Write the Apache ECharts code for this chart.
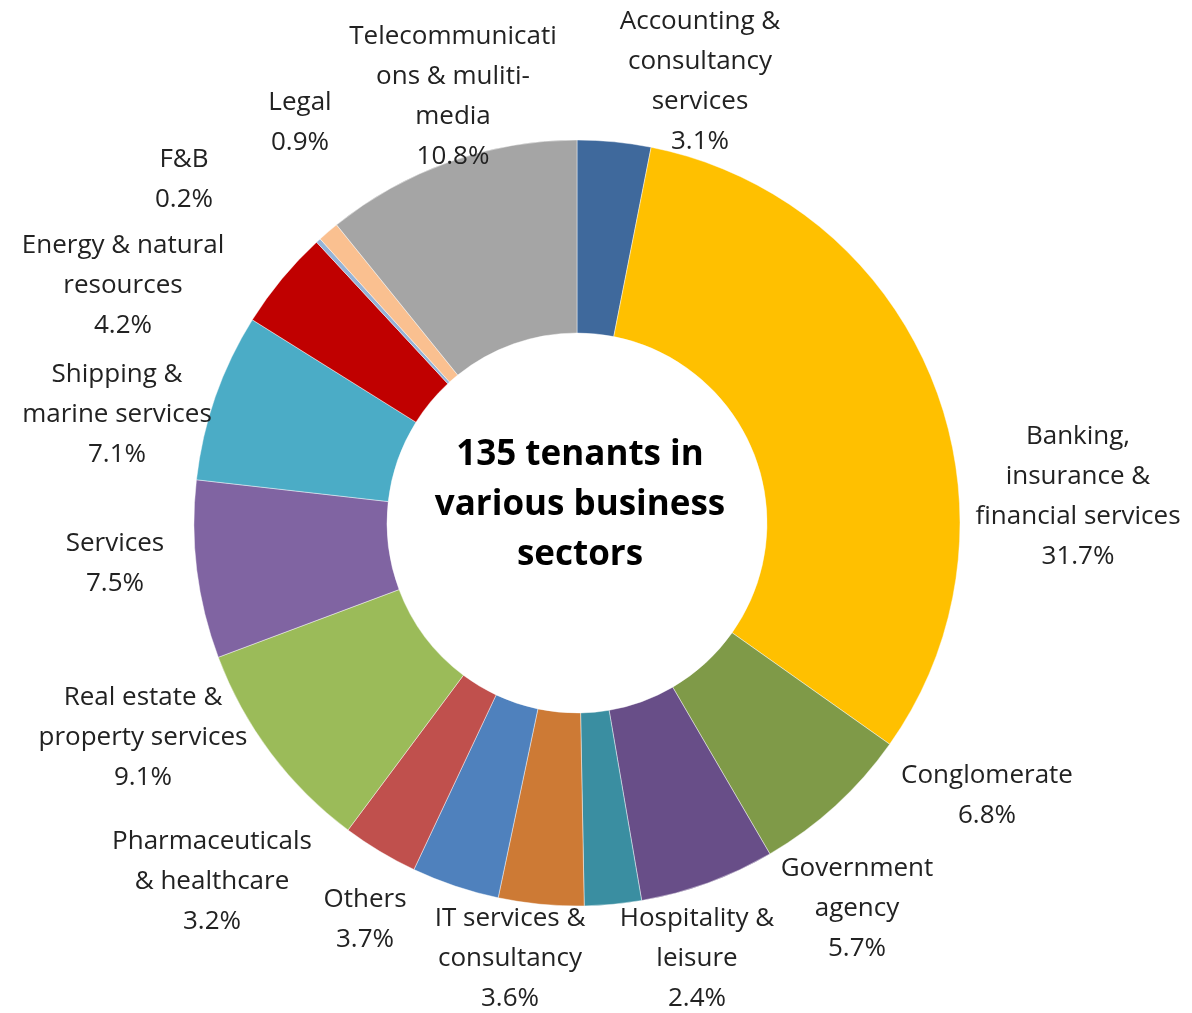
<!DOCTYPE html>
<html>
<head>
<meta charset="utf-8">
<title>Tenant mix by business sector</title>
<script src="https://cdn.jsdelivr.net/npm/echarts@6/dist/echarts.min.js"></script>
<style>
  html, body { margin: 0; padding: 0; background: #ffffff; }
  #chart { width: 1192px; height: 1013px; }
</style>
</head>
<body>
<div id="chart"></div>
<script>
// Business sectors, clockwise from 12 o'clock
var sectors = [
  'Accounting &\nconsultancy\nservices',
  'Banking,\ninsurance &\nfinancial services',
  'Conglomerate',
  'Government\nagency',
  'Hospitality &\nleisure',
  'IT services &\nconsultancy',
  'Others',
  'Pharmaceuticals\n& healthcare',
  'Real estate &\nproperty services',
  'Services',
  'Shipping &\nmarine services',
  'Energy & natural\nresources',
  'F&B',
  'Legal',
  'Telecommunicati\nons & muliti-\nmedia'
];

// Share of tenants, percent
var shares = [3.1, 31.7, 6.8, 5.7, 2.4, 3.6, 3.7, 3.2, 9.1, 7.5, 7.1, 4.2, 0.2, 0.9, 10.8];

var sectorColors = [
  '#3F699C', '#FFC000', '#7F9A48', '#684E88', '#3A8EA1',
  '#CD7A35', '#4F81BD', '#C0504D', '#9BBB59', '#8064A2',
  '#4BACC6', '#C00000', '#95B3D7', '#FAC090', '#A5A5A5'
];

var centerTitle = '135 tenants in\nvarious business\nsectors';

// Where each sector's label block is centred
var labelAnchors = [
  [700, 82], [1078, 497], [987, 796], [857, 909], [697, 959],
  [510, 959], [365, 920], [212, 882], [143, 738], [115, 564],
  [117, 415], [123, 286], [184, 180], [300, 123], [453, 97]
];

var pieData = sectors.map(function (name, i) {
  return { name: name, value: shares[i], itemStyle: { color: sectorColors[i] } };
});

var chart = echarts.init(document.getElementById('chart'), null, { renderer: 'canvas' });

chart.setOption({
  animation: false,
  backgroundColor: '#ffffff',
  graphic: [{
    type: 'text',
    x: 580,
    y: 505,
    style: {
      text: centerTitle,
      fill: '#000000',
      font: 'bold 35px "Open Sans", sans-serif',
      lineHeight: 50,
      align: 'center',
      verticalAlign: 'middle'
    },
    z: 10
  }],
  series: [{
    type: 'pie',
    center: [577, 523],
    radius: [190, 383],
    startAngle: 90,
    clockwise: true,
    avoidLabelOverlap: false,
    itemStyle: { borderColor: 'rgba(255,255,255,0.55)', borderWidth: 0.8 },
    label: {
      show: true,
      position: 'outside',
      formatter: function (p) { return p.name + '\n' + p.value.toFixed(1) + '%'; },
      color: '#222222',
      fontFamily: '"Open Sans", sans-serif',
      fontSize: 26,
      lineHeight: 40,
      align: 'center'
    },
    labelLine: { show: false },
    labelLayout: function (params) {
      var a = labelAnchors[params.dataIndex];
      return { x: a[0], y: a[1], align: 'center', verticalAlign: 'middle' };
    },
    emphasis: { disabled: true },
    data: pieData
  }]
});
</script>
</body>
</html>
